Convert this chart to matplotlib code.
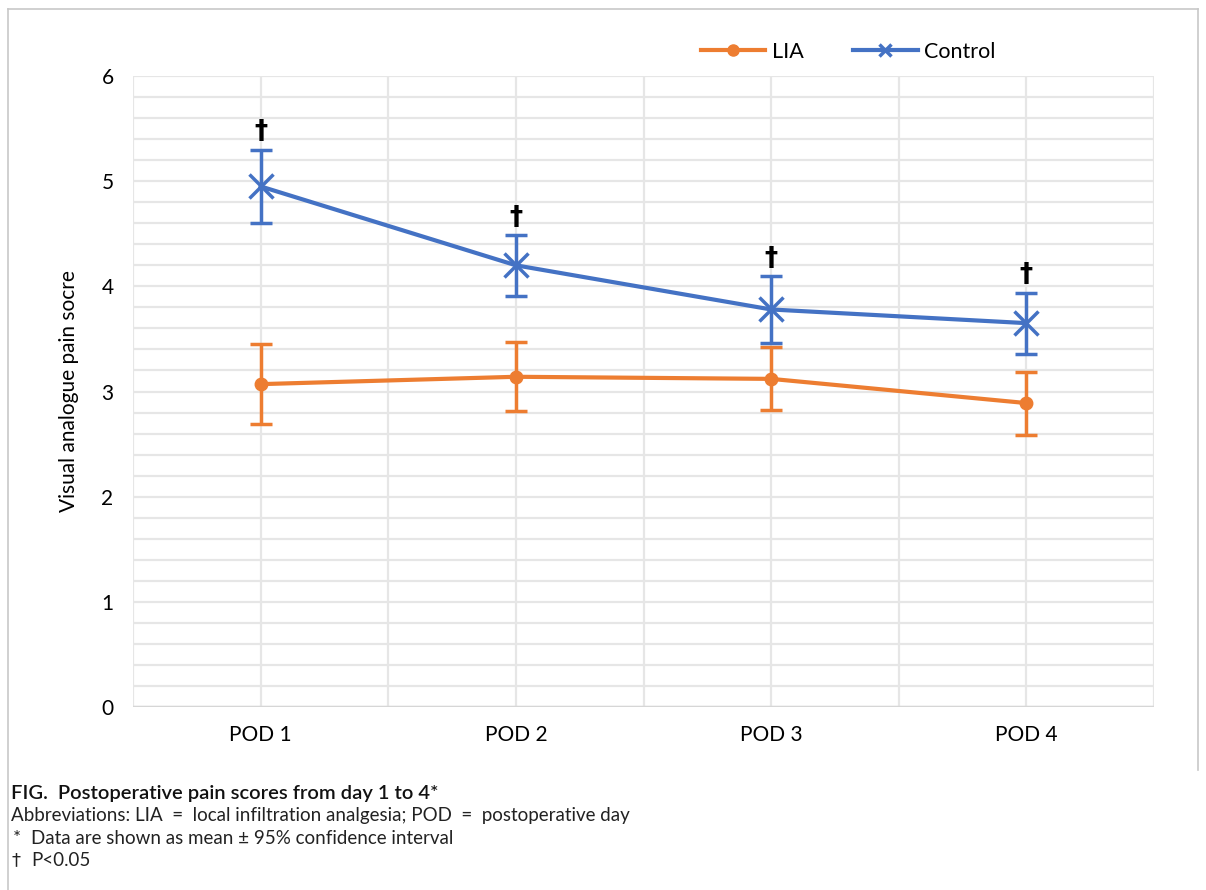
import matplotlib
matplotlib.use("Agg")
import matplotlib.pyplot as plt
from matplotlib.lines import Line2D
import numpy as np

plt.rcParams['font.family'] = ['Lato', 'DejaVu Sans']

# data
days = ["POD 1", "POD 2", "POD 3", "POD 4"]
lia_mean = [3.07, 3.14, 3.12, 2.89]
lia_ci = [0.38, 0.33, 0.30, 0.30]
ctrl_mean = [4.95, 4.20, 3.78, 3.65]
ctrl_ci = [0.35, 0.29, 0.32, 0.29]
signif = [True, True, True, True]

orange = "#ED7D31"
blue = "#4472C4"

fig = plt.figure(figsize=(12.06, 8.9), dpi=100)
ax = fig.add_axes([133/1206, 1 - 707/890, (1154-133)/1206, (707-76)/890])

x = np.arange(len(days))

ax.errorbar(x, lia_mean, yerr=lia_ci, color=orange, lw=3, marker='o', ms=9,
            capsize=8, capthick=2.5, elinewidth=2.5, zorder=3)
ax.errorbar(x, ctrl_mean, yerr=ctrl_ci, color=blue, lw=3, marker='x', ms=17,
            mew=2.5, capsize=8, capthick=2.5, elinewidth=2.5, zorder=4)

# daggers above control CI
for xi, m, c, s in zip(x, ctrl_mean, ctrl_ci, signif):
    if s:
        ax.text(xi, m + c + 0.04, "†", ha='center', va='bottom', fontsize=19,
                fontweight='bold', color='black', family='DejaVu Sans')

ax.set_xlim(-0.5, 3.5)
ax.set_ylim(0, 6)
ax.set_xticks(x)
ax.set_xticklabels(days)
ax.set_yticks(range(0, 7))
ax.set_yticks(np.arange(0, 6.01, 0.2), minor=True)
ax.set_xticks(np.arange(-0.5, 3.51, 0.5), minor=True)
ax.tick_params(axis='both', which='both', length=0, labelsize=15, colors='black')
ax.tick_params(axis='y', pad=14)
ax.tick_params(axis='x', pad=13)
ax.grid(which='both', color='#e6e6e6', lw=1.6)
ax.set_axisbelow(True)
for s in ax.spines.values():
    s.set_visible(False)
ax.axhline(0, color='#d6d6d6', lw=2.5, zorder=1)

ax.set_ylabel("Visual analogue pain socre", fontsize=15, labelpad=16)

handles = [Line2D([], [], color=orange, lw=3, marker='o', ms=8),
           Line2D([], [], color=blue, lw=3, marker='x', ms=9, mew=2.5)]
fig.legend(handles, ["LIA", "Control"], loc='center', bbox_to_anchor=(848/1206, 1 - 52/890),
           ncol=2, frameon=False, fontsize=15.5, handlelength=3.0, columnspacing=2.3,
           handletextpad=0.3)

# light frame round the figure
fig.add_artist(Line2D([8/1206, 8/1206], [0, 1 - 9/890], color='#c8c8c8', lw=1.2))
fig.add_artist(Line2D([8/1206, 1198/1206], [1 - 9/890, 1 - 9/890], color='#c8c8c8', lw=1.2))
fig.add_artist(Line2D([1198/1206, 1198/1206], [1 - 9/890, 1 - 770/890], color='#c8c8c8', lw=1.2))

# caption
fig.text(11/1206, 1 - 793/890, "FIG.  Postoperative pain scores from day 1 to 4*",
         fontsize=14.5, color='#111111', va='center', fontweight='semibold')
fig.text(11/1206, 1 - 815/890,
         "Abbreviations: LIA  =  local infiltration analgesia; POD  =  postoperative day",
         fontsize=13.5, color='#222222', va='center')
fig.text(13/1206, 1 - 838/890, "*", fontsize=13.5, color='#222222', va='center')
fig.text(31/1206, 1 - 838/890, "Data are shown as mean ± 95% confidence interval",
         fontsize=13.5, color='#222222', va='center')
fig.text(12/1206, 1 - 860/890, "†", fontsize=13, color='#222222', va='center',
         family='DejaVu Sans')
fig.text(31/1206, 1 - 860/890, "P<0.05", fontsize=13.5, color='#222222', va='center')

fig.savefig("out.png", dpi=100)
